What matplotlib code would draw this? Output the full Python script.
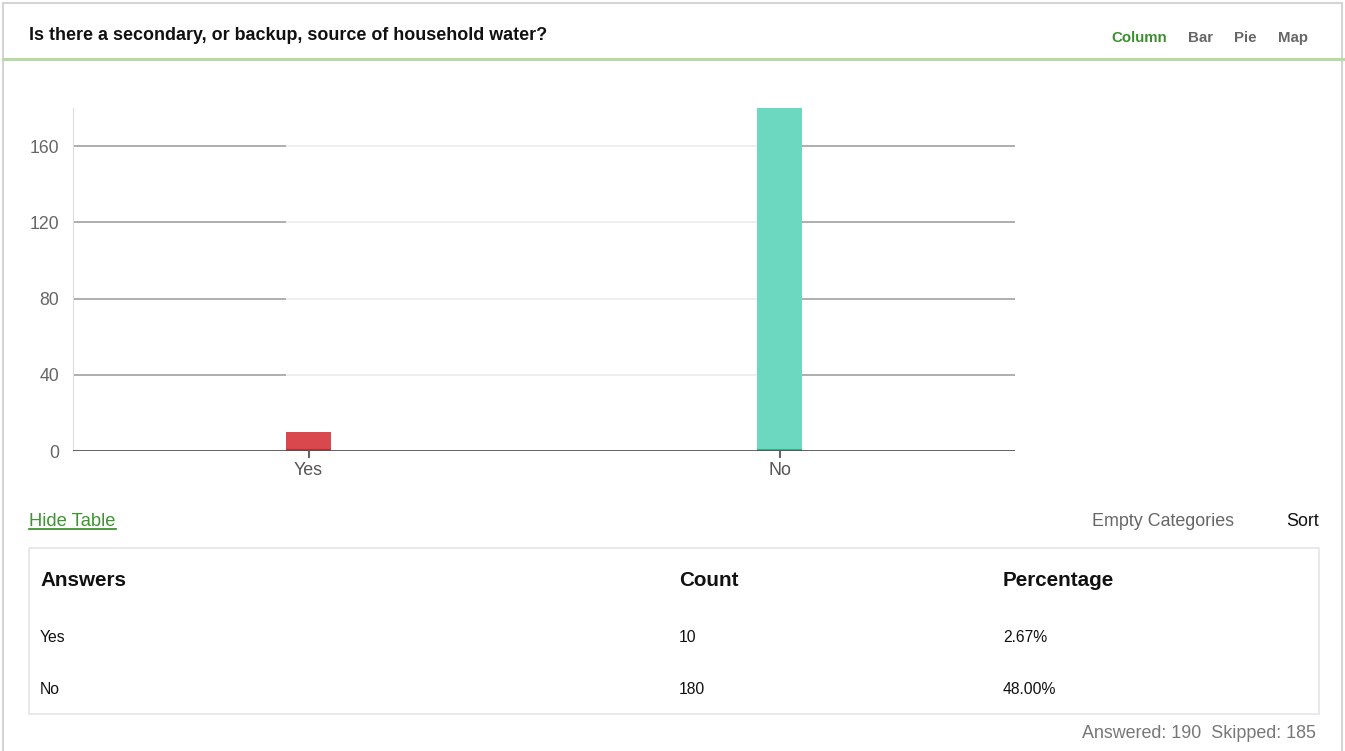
import matplotlib.pyplot as plt
from matplotlib.patches import Rectangle
from matplotlib.lines import Line2D

plt.rcParams['font.family'] = ['Liberation Sans', 'DejaVu Sans']

title = 'Is there a secondary, or backup, source of household water?'
answers = ['Yes', 'No']
counts = [10, 180]
percentages = ['2.67%', '48.00%']
answered = 190
skipped = 185
yticks = [0, 40, 80, 120, 160]
bar_colors = ['#d9484d', '#6dd8c0']
edge_colors = ['#c8262c', '#2ab390']

W, H = 1345, 751
fig = plt.figure(figsize=(W / 100, H / 100), dpi=100)


def px(x, y):
    return x / W, 1 - y / H


def ftext(x, y, s, **kw):
    fig.text(*px(x, y), s, **kw)


# outer frame + green separator
fig.add_artist(Rectangle(px(3, 760), 1339 / W, 757 / H, fill=False,
                         edgecolor='#d4d4d4', lw=1.5, transform=fig.transFigure))
fig.add_artist(Line2D([3 / W, 1343 / W], [1 - 59 / H] * 2, color='#b7dba3',
                      lw=2.2, transform=fig.transFigure))

ftext(29, 35, title, fontsize=12.9, fontweight='bold', va='center', color='#111')
ftext(1111, 38, 'Column', fontsize=10.8, fontweight='bold', va='center', color='#3a8e30')
ftext(1188, 38, 'Bar', fontsize=10.8, fontweight='bold', va='center', color='#666')
ftext(1234, 38, 'Pie', fontsize=10.8, fontweight='bold', va='center', color='#666')
ftext(1278, 38, 'Map', fontsize=10.8, fontweight='bold', va='center', color='#666')

# chart
ax = fig.add_axes([73 / W, 1 - 451 / H, 942 / W, 343 / H])
x = list(range(len(answers)))
width = 0.096
ax.bar(x, counts, width=width, color=bar_colors, zorder=3)
for xi, c, ec in zip(x, counts, edge_colors):
    ax.hlines(0.4, xi - width / 2, xi + width / 2, color=ec, lw=1.5, zorder=4)
ax.set_xlim(-0.5, 1.5)
ax.set_ylim(0, 180)
left_edge = x[0] - width / 2
right_edge = x[-1] + width / 2
for t in yticks[1:]:
    ax.hlines(t, -0.5, left_edge, color='#999', lw=1.1, zorder=1)
    ax.hlines(t, left_edge, right_edge, color='#e9e9e9', lw=1.1, zorder=1)
    ax.hlines(t, right_edge, 1.5, color='#999', lw=1.1, zorder=1)
ax.axhline(0, color='#555', lw=1.3, zorder=5)
ax.set_yticks(yticks)
ax.set_xticks(x, answers)
for s in ['top', 'right', 'bottom']:
    ax.spines[s].set_visible(False)
ax.spines['left'].set_color('#dddddd')
ax.tick_params(axis='y', length=0, pad=10, labelsize=12.7, labelcolor='#666')
ax.tick_params(axis='x', length=5, width=1.5, color='#666', pad=3,
               labelsize=12.9, labelcolor='#555')

# table controls
ftext(29, 521, 'Hide Table', fontsize=13.2, va='center', color='#3d9431')
fig.add_artist(Line2D([29 / W, 116 / W], [1 - 529 / H] * 2, color='#3d9431',
                      lw=1.3, transform=fig.transFigure))
ftext(1092, 521, 'Empty Categories', fontsize=12.9, va='center', color='#666')
ftext(1286, 521, 'Sort', fontsize=12.9, va='center', color='#111')

# table
fig.add_artist(Rectangle(px(29, 714), 1290 / W, 166 / H, fill=False,
                         edgecolor='#e6e6ec', lw=1.3, transform=fig.transFigure))
col_x = [40, 679, 1003]
for cx, hdr in zip(col_x, ['Answers', 'Count', 'Percentage']):
    ftext(cx, 581, hdr, fontsize=14.9, fontweight='bold', va='center', color='#111')
row_y = [638, 690]
for ry, a, c, p in zip(row_y, answers, counts, percentages):
    ftext(col_x[0], ry, a, fontsize=11.3, va='center', color='#111')
    ftext(col_x[1], ry, str(c), fontsize=11.3, va='center', color='#111')
    ftext(col_x[2], ry, p, fontsize=11.3, va='center', color='#111')

ftext(1316, 733, f'Answered: {answered}  Skipped: {skipped}', fontsize=12.9,
      va='center', ha='right', color='#777')

fig.savefig('out.png', dpi=100)
